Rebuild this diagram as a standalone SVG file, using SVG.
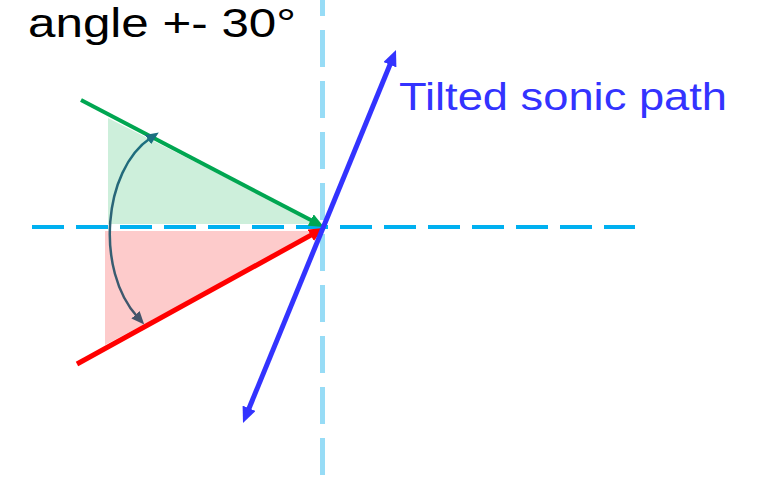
<svg xmlns="http://www.w3.org/2000/svg" width="764" height="478" viewBox="0 0 764 478">
  <style>
    .lbl { font-family: "Liberation Sans", Arial, sans-serif; }
    .axis-h { stroke: #00B0F0; stroke-width: 4; stroke-dasharray: 32 12; fill: none; }
    .axis-v { stroke: #97DCF6; stroke-width: 5; stroke-dasharray: 37 14; fill: none; }
  </style>
  <defs>
    <marker id="arrG" markerUnits="userSpaceOnUse" markerWidth="15" markerHeight="13" refX="6" refY="6.5" orient="auto">
      <path d="M0,0 L15,6.5 L0,13 z" fill="#00A651"/>
    </marker>
    <marker id="arrR" markerUnits="userSpaceOnUse" markerWidth="15" markerHeight="13" refX="6" refY="6.5" orient="auto">
      <path d="M0,0 L15,6.5 L0,13 z" fill="#FF0000"/>
    </marker>
    <marker id="arrB" markerUnits="userSpaceOnUse" markerWidth="16" markerHeight="14" refX="6" refY="7" orient="auto-start-reverse">
      <path d="M0,0 L16,7 L0,14 z" fill="#3333FF"/>
    </marker>
    <marker id="arrT" markerUnits="userSpaceOnUse" markerWidth="13" markerHeight="11" refX="3" refY="5.5" orient="auto-start-reverse">
      <path d="M0,0 L13,5.5 L0,11 z" fill="#1B7080"/>
    </marker>
    <marker id="arrS" markerUnits="userSpaceOnUse" markerWidth="13" markerHeight="11" refX="3" refY="5.5" orient="auto">
      <path d="M0,0 L13,5.5 L0,11 z" fill="#44546A"/>
    </marker>
    <linearGradient id="curveGrad" gradientUnits="userSpaceOnUse" x1="0" y1="134" x2="0" y2="323">
      <stop offset="0" stop-color="#1B7080"/>
      <stop offset="1" stop-color="#44546A"/>
    </linearGradient>
  </defs>

  <g id="fill-upper">
    <polygon points="108,118 108,224 318,224" fill="#CDEFDB"/>
  </g>
  <g id="fill-lower">
    <polygon points="105,231 320,231 105,345" fill="#FDCBCB"/>
  </g>

  <g id="axes">
    <line class="axis-h" x1="32" y1="227" x2="635" y2="227"/>
    <line class="axis-v" x1="322.5" y1="-21" x2="322.5" y2="478"/>
  </g>

  <g id="connectors">
    <line id="green-ray" x1="81" y1="100" x2="316" y2="222.8" stroke="#00A651" stroke-width="4" marker-end="url(#arrG)"/>
    <line id="red-ray" x1="77" y1="364" x2="316" y2="232.4" stroke="#FF0000" stroke-width="5" marker-end="url(#arrR)"/>
    <line id="sonic-path" x1="246.8" y1="413.8" x2="392.2" y2="59.2" stroke="#3333FF" stroke-width="5" marker-start="url(#arrB)" marker-end="url(#arrB)"/>
    <path id="angle-arc" d="M150.5,138 C103,170 95,270 137.5,317" fill="none" stroke="url(#curveGrad)" stroke-width="2.5" marker-start="url(#arrT)" marker-end="url(#arrS)"/>
  </g>

  <g id="title">
    <text class="lbl" x="28" y="37" font-size="40" fill="#000000" textLength="268" lengthAdjust="spacingAndGlyphs">angle +- 30°</text>
  </g>
  <g id="label-sonic">
    <text class="lbl" x="399" y="110" font-size="38" fill="#3333FF" textLength="328" lengthAdjust="spacingAndGlyphs">Tilted sonic path</text>
  </g>
</svg>
